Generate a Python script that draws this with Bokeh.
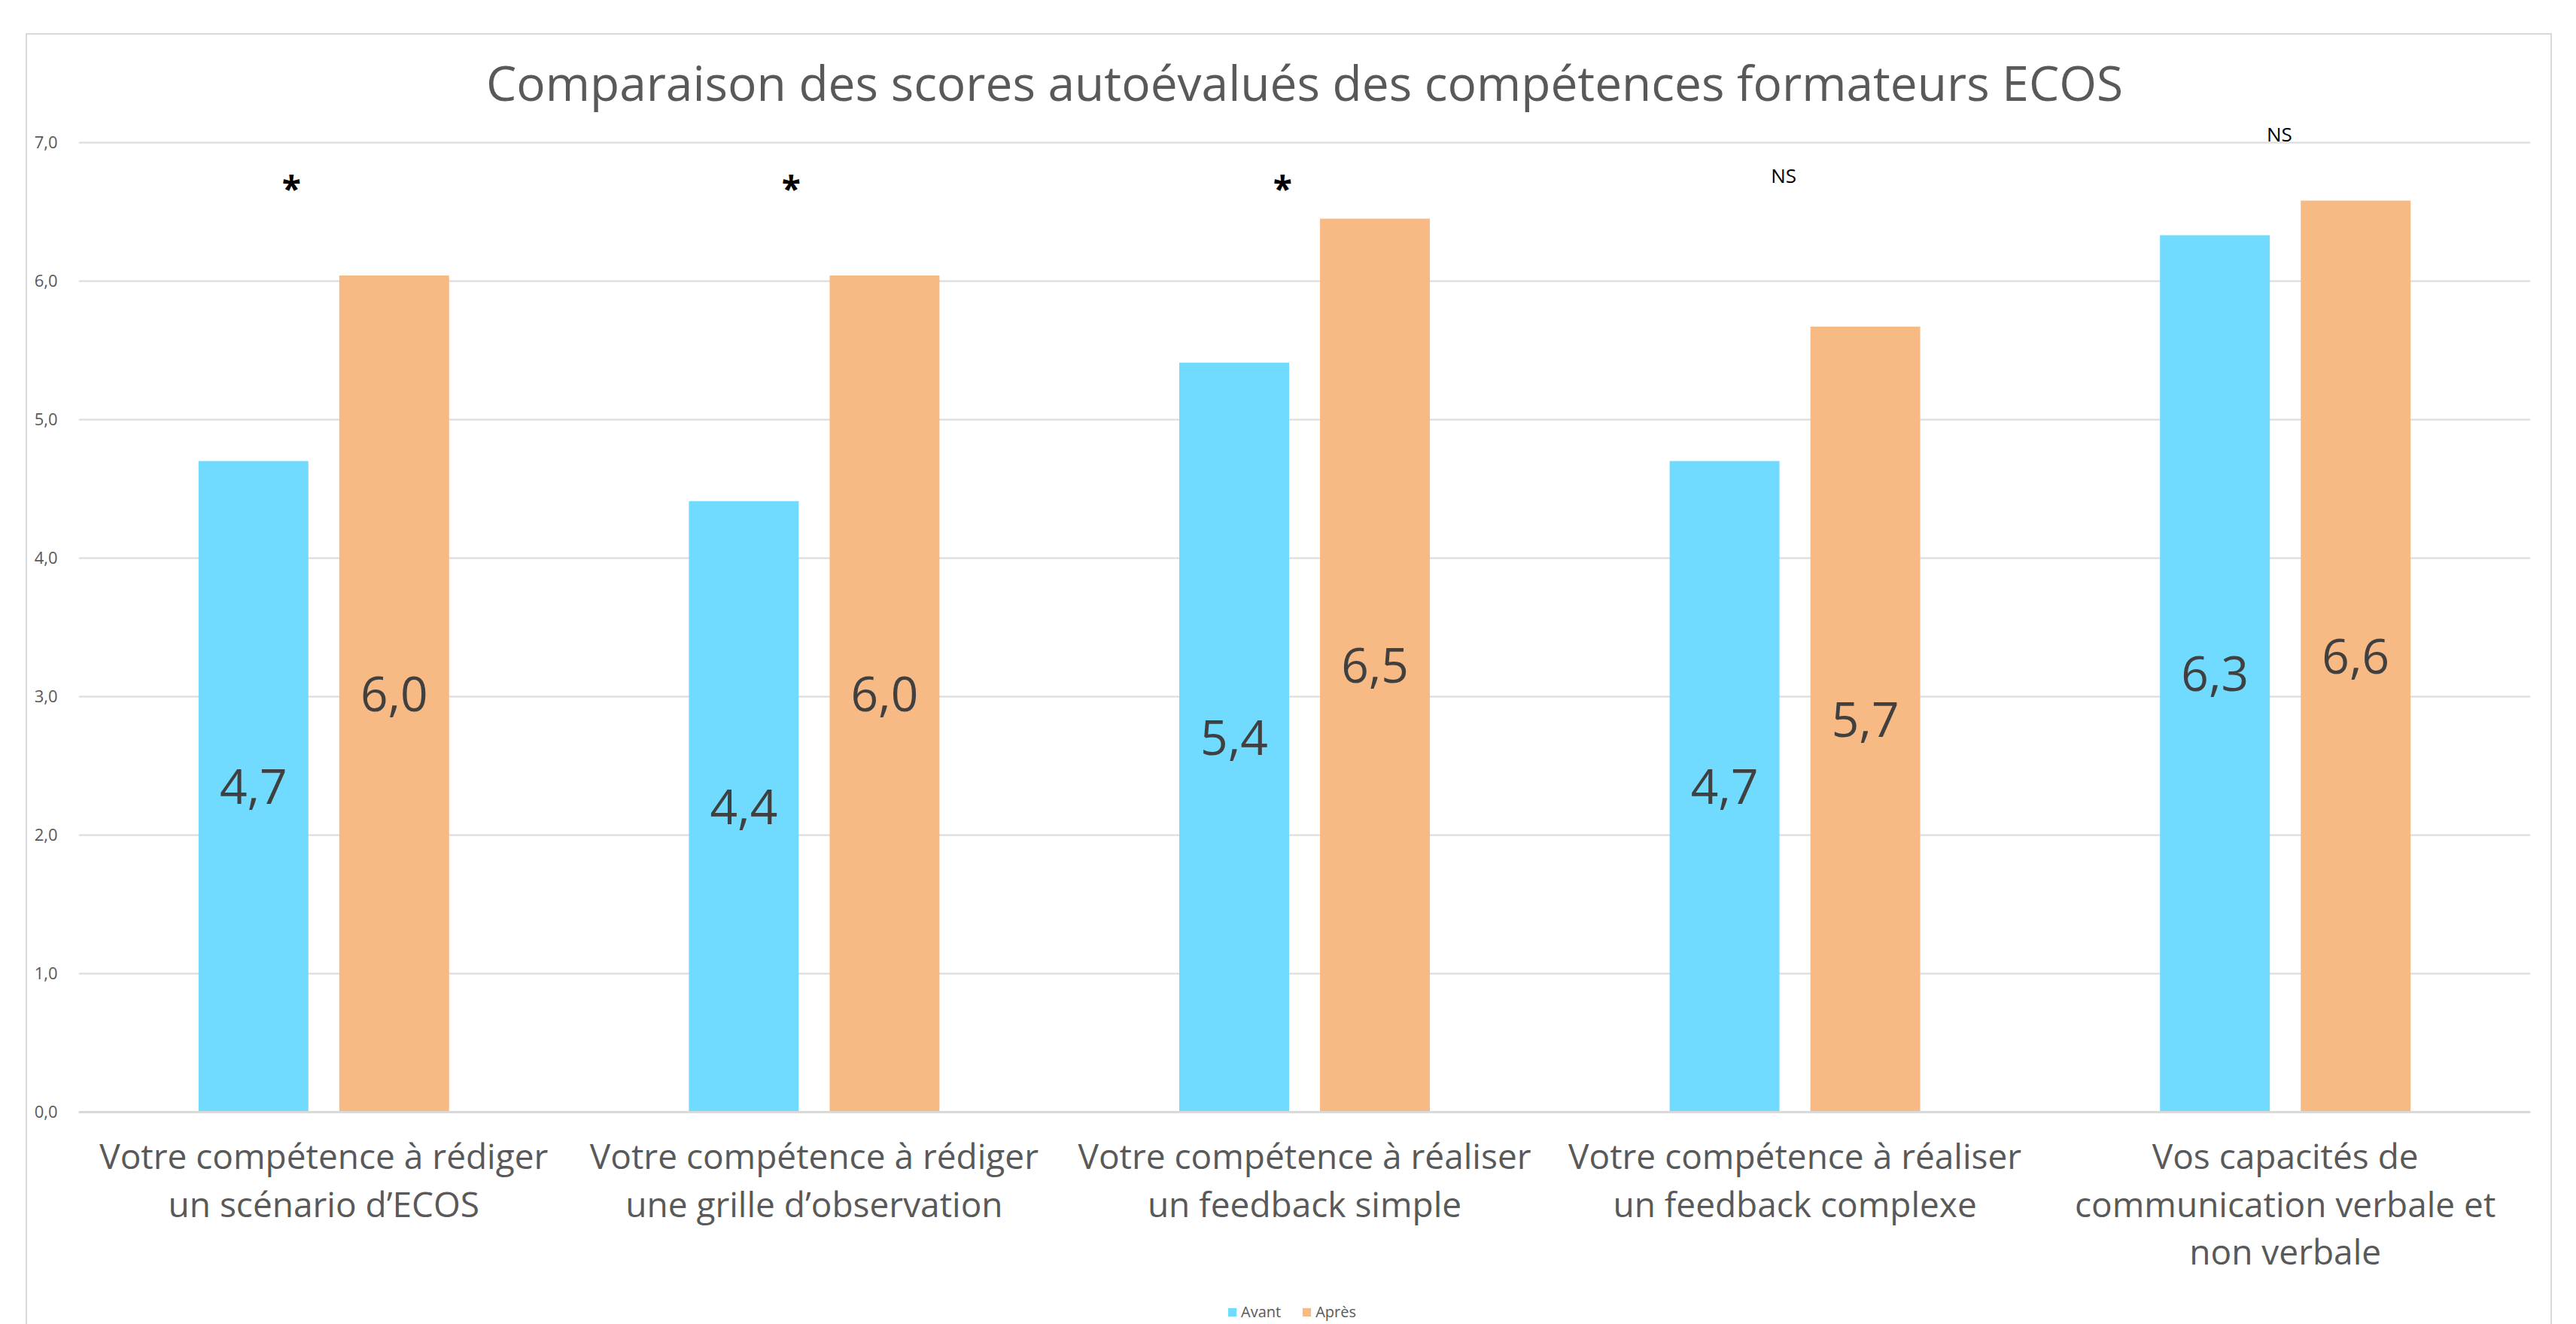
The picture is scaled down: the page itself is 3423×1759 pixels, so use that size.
from bokeh.plotting import figure
from bokeh.models import (FactorRange, ColumnDataSource, Legend, LegendItem,
                          FixedTicker, Range1d)
from bokeh.transform import dodge
from bokeh.core.properties import value
from bokeh.embed import file_html
from bokeh.resources import INLINE

# ---------------- data ----------------
categories = [
    "Votre compétence à rédiger\nun scénario d’ECOS",
    "Votre compétence à rédiger\nune grille d’observation",
    "Votre compétence à réaliser\nun feedback simple",
    "Votre compétence à réaliser\nun feedback complexe",
    "Vos capacités de\ncommunication verbale et\nnon verbale",
]
avant = [4.70, 4.41, 5.41, 4.70, 6.33]
apres = [6.04, 6.04, 6.45, 5.67, 6.58]
series_names = ["Avant", "Après"]
sig_text = ["*", "*", "*", "NS", "NS"]
sig_y = [6.67, 6.67, 6.67, 6.76, 7.06]
sig_offset = [-0.066, -0.047, -0.045, -0.023, -0.012]
y_ticks = [0, 1, 2, 3, 4, 5, 6, 7]
title_text = "Comparaison des scores autoévalués des compétences formateurs ECOS"

BLUE = "#70DAFF"
ORANGE = "#F8BA85"
GRID = "#D9D9D9"
TXT = "#595959"
FONT = "Open Sans"

def fmt(v):
    return f"{v:.1f}".replace(".", ",")

src = ColumnDataSource(dict(
    cat=categories,
    avant=avant,
    apres=apres,
    avant_mid=[v / 2 for v in avant],
    apres_mid=[v / 2 for v in apres],
    avant_lbl=[fmt(v) for v in avant],
    apres_lbl=[fmt(v) for v in apres],
))

# the frame extends below zero so that the category labels and the legend
# sit inside it; the x axis is pinned at y = 0
p = figure(x_range=FactorRange(*categories), y_range=Range1d(-1.55, 7.2),
           frame_width=3258, frame_height=1610,
           output_backend="svg", toolbar_location=None,
           min_border_left=68, min_border_right=27, min_border_top=106,
           min_border_bottom=0, background_fill_color="white",
           border_fill_color="white")
p.margin = (44, 0, 0, 34)
p.styles = {"border": "2px solid #D9D9D9"}
p.outline_line_color = None

p.title.text = title_text
p.title.align = "center"
p.title.text_font = FONT
p.title.text_font_size = "64px"
p.title.text_font_style = "normal"
p.title.text_color = TXT
p.title.standoff = 0

b1 = p.vbar(x=dodge("cat", -0.1435, range=p.x_range), top="avant", bottom=0,
            width=0.224, source=src, fill_color=BLUE, line_color=None)
b2 = p.vbar(x=dodge("cat", 0.1435, range=p.x_range), top="apres", bottom=0,
            width=0.224, source=src, fill_color=ORANGE, line_color=None)

p.text(x=dodge("cat", -0.1435, range=p.x_range), y="avant_mid", text="avant_lbl",
       source=src, text_align="center", text_baseline="middle",
       text_font=value(FONT), text_font_size="64px", text_color="#404040")
p.text(x=dodge("cat", 0.1435, range=p.x_range), y="apres_mid", text="apres_lbl",
       source=src, text_align="center", text_baseline="middle",
       text_font=value(FONT), text_font_size="64px", text_color="#404040")

# significance marks
for c, t, y, o in zip(categories, sig_text, sig_y, sig_offset):
    s = ColumnDataSource(dict(cat=[c], y=[y], txt=[t]))
    if t == "*":
        p.text(x=dodge("cat", o, range=p.x_range), y="y", text="txt", source=s,
               text_align="center", text_baseline="middle",
               text_font=value(FONT), text_font_size="46px",
               text_font_style="bold", text_color="black")
    else:
        p.text(x=dodge("cat", o, range=p.x_range), y="y", text="txt", source=s,
               text_align="center", text_baseline="middle",
               text_font=value(FONT), text_font_size="26px", text_color="black")

# axes
p.yaxis.ticker = FixedTicker(ticks=y_ticks)
p.yaxis.major_label_overrides = {t: f"{t},0" for t in y_ticks}
p.yaxis.axis_line_color = None
p.yaxis.major_tick_line_color = None
p.yaxis.minor_tick_line_color = None
p.yaxis.major_label_text_font = FONT
p.yaxis.major_label_text_font_size = "22px"
p.yaxis.major_label_text_color = TXT
p.yaxis.major_label_standoff = 22

p.xaxis.fixed_location = 0
p.xaxis.axis_line_color = GRID
p.xaxis.axis_line_width = 3
p.xaxis.major_tick_line_color = None
p.xaxis.minor_tick_line_color = None
p.xaxis.major_tick_out = 0
p.xaxis.major_tick_in = 0
p.xaxis.major_label_text_font = FONT
p.xaxis.major_label_text_font_size = "46px"
p.xaxis.major_label_text_color = TXT
p.xaxis.major_label_text_line_height = 1.02
p.xaxis.major_label_standoff = 27

p.xgrid.visible = False
p.ygrid.ticker = FixedTicker(ticks=y_ticks)
p.ygrid.grid_line_color = GRID
p.ygrid.grid_line_width = 2

legend = Legend(items=[LegendItem(label=series_names[0], renderers=[b1]),
                       LegendItem(label=series_names[1], renderers=[b2])],
                orientation="horizontal", location=(1526, 6),
                glyph_width=14, glyph_height=14, label_standoff=5, spacing=27,
                label_text_font=FONT, label_text_font_size="20px",
                label_text_color=TXT, border_line_color=None,
                background_fill_alpha=0, padding=0, margin=0, label_height=20)
p.add_layout(legend, "center")

open("out.html", "w").write(file_html(p, INLINE))
